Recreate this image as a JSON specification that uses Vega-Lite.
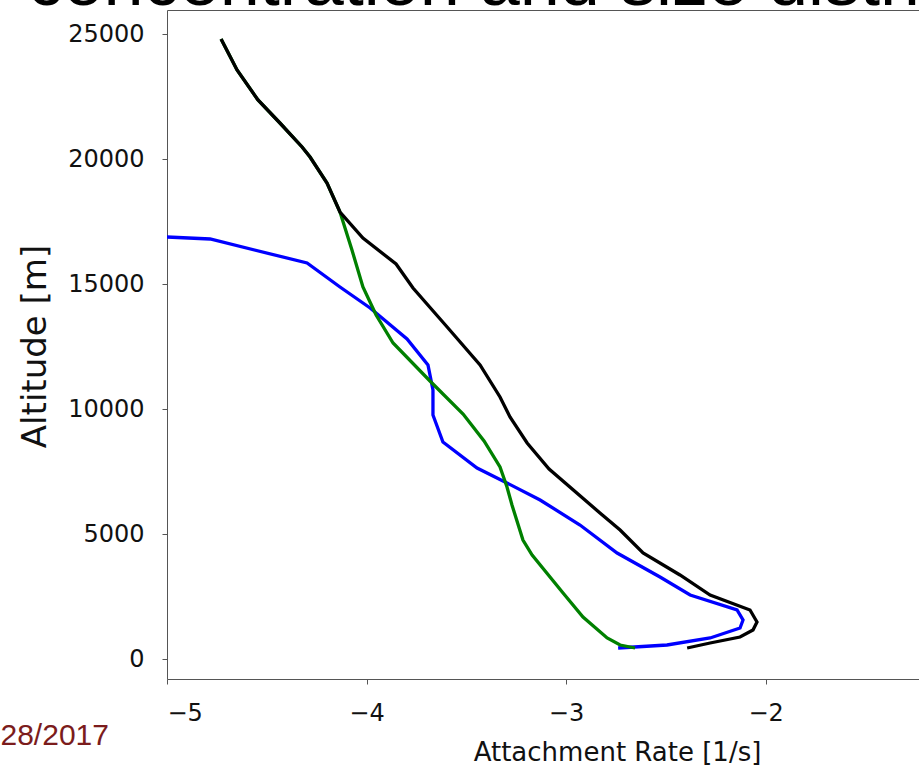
{
  "$schema": "https://vega.github.io/schema/vega-lite/v6.json",
  "width": 754,
  "height": 669,
  "autosize": "none",
  "padding": {"left": 167, "top": 10, "right": 0, "bottom": 87},
  "background": "white",
  "config": {"view": {"stroke": null}, "font": "DejaVu Sans"},
  "data": {"values": [
    {"s": "blue", "i": 0, "rate": -5.0, "alt": 16880},
    {"s": "blue", "i": 1, "rate": -4.784, "alt": 16800},
    {"s": "blue", "i": 2, "rate": -4.298, "alt": 15840},
    {"s": "blue", "i": 3, "rate": -4.133, "alt": 14880},
    {"s": "blue", "i": 4, "rate": -3.982, "alt": 14040},
    {"s": "blue", "i": 5, "rate": -3.797, "alt": 12800},
    {"s": "blue", "i": 6, "rate": -3.692, "alt": 11760},
    {"s": "blue", "i": 7, "rate": -3.667, "alt": 10760},
    {"s": "blue", "i": 8, "rate": -3.667, "alt": 9760},
    {"s": "blue", "i": 9, "rate": -3.617, "alt": 8680},
    {"s": "blue", "i": 10, "rate": -3.446, "alt": 7640},
    {"s": "blue", "i": 11, "rate": -3.296, "alt": 7040},
    {"s": "blue", "i": 12, "rate": -3.13, "alt": 6360},
    {"s": "blue", "i": 13, "rate": -2.93, "alt": 5360},
    {"s": "blue", "i": 14, "rate": -2.744, "alt": 4240},
    {"s": "blue", "i": 15, "rate": -2.529, "alt": 3280},
    {"s": "blue", "i": 16, "rate": -2.378, "alt": 2560},
    {"s": "blue", "i": 17, "rate": -2.143, "alt": 1960},
    {"s": "blue", "i": 18, "rate": -2.113, "alt": 1560},
    {"s": "blue", "i": 19, "rate": -2.128, "alt": 1240},
    {"s": "blue", "i": 20, "rate": -2.278, "alt": 840},
    {"s": "blue", "i": 21, "rate": -2.494, "alt": 560},
    {"s": "blue", "i": 22, "rate": -2.739, "alt": 440},
    {"s": "green", "i": 0, "rate": -4.729, "alt": 24800},
    {"s": "green", "i": 1, "rate": -4.649, "alt": 23560},
    {"s": "green", "i": 2, "rate": -4.544, "alt": 22360},
    {"s": "green", "i": 3, "rate": -4.434, "alt": 21440},
    {"s": "green", "i": 4, "rate": -4.323, "alt": 20480},
    {"s": "green", "i": 5, "rate": -4.283, "alt": 20080},
    {"s": "green", "i": 6, "rate": -4.198, "alt": 19040},
    {"s": "green", "i": 7, "rate": -4.133, "alt": 17880},
    {"s": "green", "i": 8, "rate": -4.073, "alt": 16360},
    {"s": "green", "i": 9, "rate": -4.018, "alt": 14880},
    {"s": "green", "i": 10, "rate": -3.952, "alt": 13760},
    {"s": "green", "i": 11, "rate": -3.867, "alt": 12640},
    {"s": "green", "i": 12, "rate": -3.682, "alt": 11120},
    {"s": "green", "i": 13, "rate": -3.516, "alt": 9800},
    {"s": "green", "i": 14, "rate": -3.411, "alt": 8720},
    {"s": "green", "i": 15, "rate": -3.331, "alt": 7680},
    {"s": "green", "i": 16, "rate": -3.296, "alt": 6880},
    {"s": "green", "i": 17, "rate": -3.271, "alt": 6160},
    {"s": "green", "i": 18, "rate": -3.216, "alt": 4760},
    {"s": "green", "i": 19, "rate": -3.17, "alt": 4160},
    {"s": "green", "i": 20, "rate": -3.015, "alt": 2640},
    {"s": "green", "i": 21, "rate": -2.915, "alt": 1680},
    {"s": "green", "i": 22, "rate": -2.794, "alt": 840},
    {"s": "green", "i": 23, "rate": -2.729, "alt": 560},
    {"s": "green", "i": 24, "rate": -2.654, "alt": 440},
    {"s": "black", "i": 0, "rate": -4.729, "alt": 24800},
    {"s": "black", "i": 1, "rate": -4.649, "alt": 23560},
    {"s": "black", "i": 2, "rate": -4.544, "alt": 22360},
    {"s": "black", "i": 3, "rate": -4.434, "alt": 21440},
    {"s": "black", "i": 4, "rate": -4.323, "alt": 20480},
    {"s": "black", "i": 5, "rate": -4.283, "alt": 20080},
    {"s": "black", "i": 6, "rate": -4.198, "alt": 19040},
    {"s": "black", "i": 7, "rate": -4.133, "alt": 17880},
    {"s": "black", "i": 8, "rate": -4.018, "alt": 16840},
    {"s": "black", "i": 9, "rate": -3.852, "alt": 15800},
    {"s": "black", "i": 10, "rate": -3.767, "alt": 14840},
    {"s": "black", "i": 11, "rate": -3.596, "alt": 13280},
    {"s": "black", "i": 12, "rate": -3.431, "alt": 11760},
    {"s": "black", "i": 13, "rate": -3.331, "alt": 10480},
    {"s": "black", "i": 14, "rate": -3.281, "alt": 9680},
    {"s": "black", "i": 15, "rate": -3.195, "alt": 8640},
    {"s": "black", "i": 16, "rate": -3.085, "alt": 7600},
    {"s": "black", "i": 17, "rate": -2.83, "alt": 5840},
    {"s": "black", "i": 18, "rate": -2.729, "alt": 5160},
    {"s": "black", "i": 19, "rate": -2.614, "alt": 4240},
    {"s": "black", "i": 20, "rate": -2.429, "alt": 3360},
    {"s": "black", "i": 21, "rate": -2.278, "alt": 2560},
    {"s": "black", "i": 22, "rate": -2.078, "alt": 1960},
    {"s": "black", "i": 23, "rate": -2.043, "alt": 1480},
    {"s": "black", "i": 24, "rate": -2.063, "alt": 1160},
    {"s": "black", "i": 25, "rate": -2.128, "alt": 880},
    {"s": "black", "i": 26, "rate": -2.278, "alt": 640},
    {"s": "black", "i": 27, "rate": -2.393, "alt": 440}
  ]},
  "resolve": {"axis": {"x": "independent", "y": "independent"}},
  "layer": [
    {
      "transform": [{"filter": "datum.s === 'blue'"}],
      "mark": {"type": "line", "color": "#0000ff", "strokeWidth": 3.3, "clip": true},
      "encoding": {
        "x": {"field": "rate", "type": "quantitative", "scale": {"domain": [-5, -1.221], "nice": false, "zero": false},
          "axis": {"orient": "bottom", "values": [-5, -4, -3, -2], "format": "d", "grid": false, "domainColor": "#555555", "tickColor": "#555555", "tickSize": 5, "labelFontSize": 24, "labelColor": "#111111", "labelPadding": 17, "labelFont": "DejaVu Sans",
            "title": "Attachment Rate [1/s]", "titleFontSize": 26, "titleFontWeight": "normal", "titleColor": "#111111", "titleFont": "DejaVu Sans", "titleX": 450, "titleY": 81, "titleBaseline": "alphabetic", "titleAlign": "center"}},
        "y": {"field": "alt", "type": "quantitative", "scale": {"domain": [-800, 25960], "nice": false, "zero": false},
          "axis": {"orient": "left", "values": [0, 5000, 10000, 15000, 20000, 25000], "format": "d", "grid": false, "domainColor": "#555555", "tickColor": "#555555", "tickSize": 5, "labelFontSize": 24, "labelColor": "#111111", "labelPadding": 18, "labelFont": "DejaVu Sans",
            "title": "Altitude [m]", "titleFontSize": 34, "titleFontWeight": "normal", "titleColor": "#111111", "titleFont": "DejaVu Sans", "titleX": -122, "titleY": 336, "titleBaseline": "alphabetic", "titleAlign": "center", "titleAngle": 270}},
        "order": {"field": "i", "type": "quantitative"}
      }
    },
    {
      "transform": [{"filter": "datum.s === 'green'"}],
      "mark": {"type": "line", "color": "#008000", "strokeWidth": 3.3, "clip": true},
      "encoding": {
        "x": {"field": "rate", "type": "quantitative",
          "axis": {"orient": "top", "ticks": false, "labels": false, "grid": false, "domainColor": "#555555",
            "title": "concentration and size distribution", "titleFont": "Liberation Sans", "titleFontSize": 72, "titleFontWeight": "normal", "titleColor": "#000000", "titleX": -140, "titleY": -6, "titleBaseline": "alphabetic", "titleAlign": "left", "titleAngle": 0}},
        "y": {"field": "alt", "type": "quantitative", "axis": null},
        "order": {"field": "i", "type": "quantitative"}
      }
    },
    {
      "transform": [{"filter": "datum.s === 'black'"}],
      "mark": {"type": "line", "color": "#000000", "strokeWidth": 3.3, "clip": true},
      "encoding": {
        "x": {"field": "rate", "type": "quantitative", "axis": null},
        "y": {"field": "alt", "type": "quantitative",
          "axis": {"orient": "right", "domain": false, "ticks": false, "labels": false, "grid": false,
            "title": "28/2017", "titleFont": "Liberation Sans", "titleFontSize": 30, "titleFontWeight": "normal", "titleColor": "#7b1c1c", "titleX": -921, "titleY": 734, "titleBaseline": "alphabetic", "titleAlign": "left", "titleAngle": 0}},
        "order": {"field": "i", "type": "quantitative"}
      }
    }
  ]
}
